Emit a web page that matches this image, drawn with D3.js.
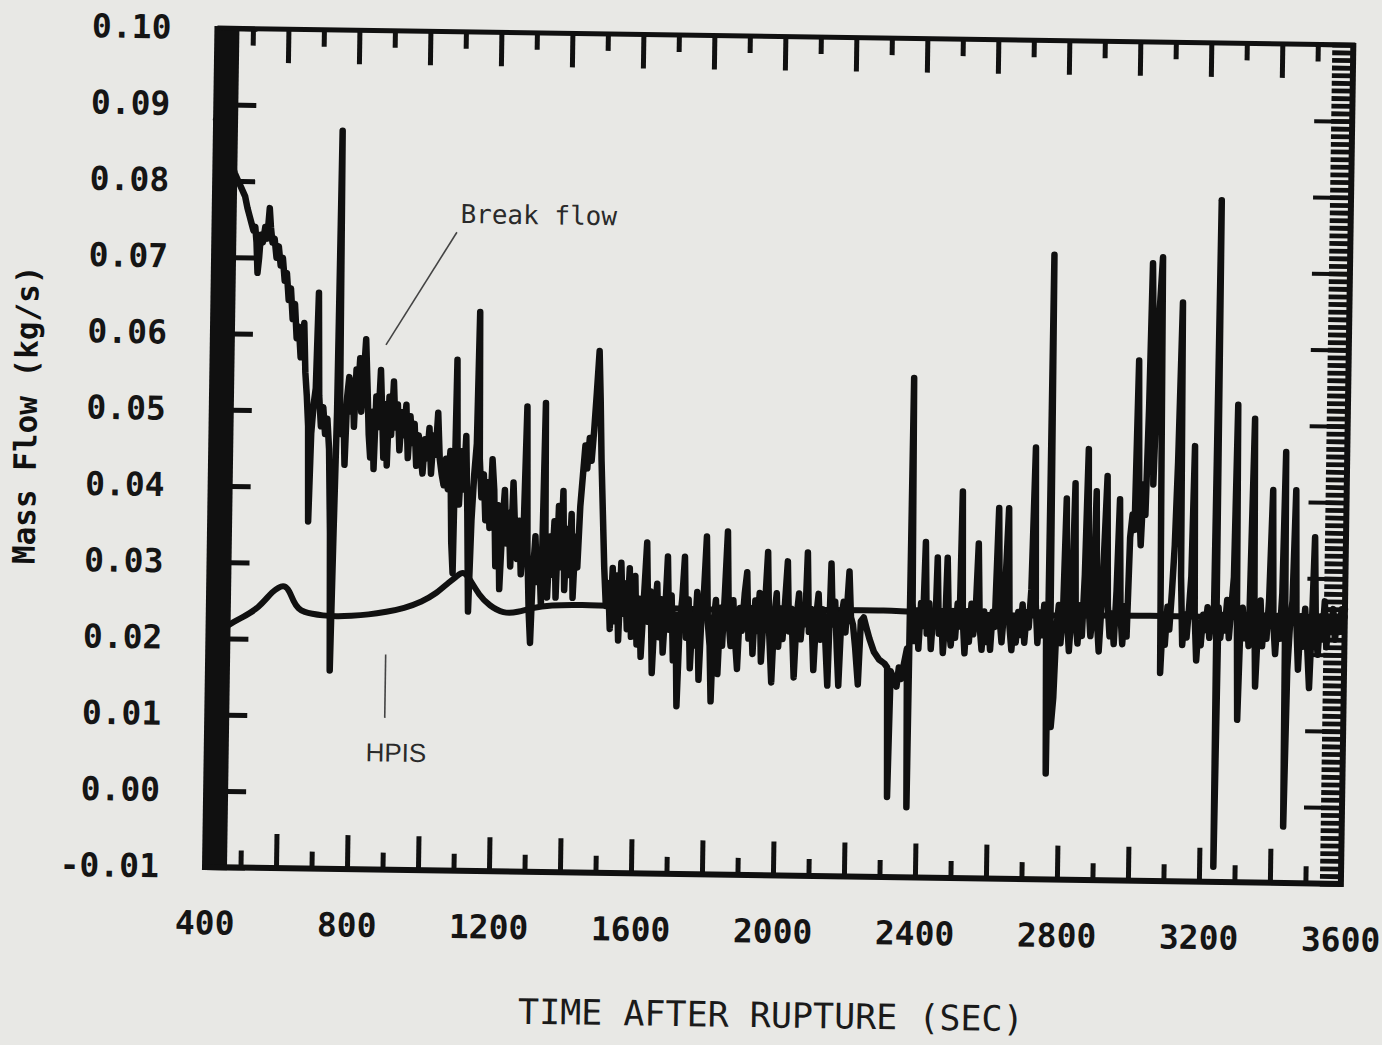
<!DOCTYPE html>
<html>
<head>
<meta charset="utf-8">
<script src="https://cdn.jsdelivr.net/npm/d3@7"></script>
<style>
  html, body { margin: 0; padding: 0; background: #e8e8e5; }
  svg { display: block; }
</style>
</head>
<body>
<svg id="chart" width="1382" height="1045"></svg>
<script>
'use strict'

// Break flow, [time after rupture (s), mass flow (kg/s)]
const breakFlow = [
  [400, 0.0880], [420, 0.0850], [440, 0.0830], [455, 0.0810], [465, 0.0800], [475, 0.0790], [485, 0.0780],
  [492, 0.0765], [498, 0.0755], [504, 0.0745], [510, 0.0735], [515, 0.0740], [519, 0.0720], [523, 0.0680],
  [527, 0.0700], [531, 0.0730], [537, 0.0720], [543, 0.0740], [549, 0.0725], [555, 0.0765], [559, 0.0740],
  [564, 0.0720], [570, 0.0725], [576, 0.0700], [582, 0.0715], [588, 0.0690], [594, 0.0700], [600, 0.0670],
  [606, 0.0680], [612, 0.0645], [618, 0.0660], [624, 0.0620], [630, 0.0640], [636, 0.0595], [642, 0.0610],
  [648, 0.0570], [653, 0.0590], [657, 0.0615], [662, 0.0550], [667, 0.0520], [672, 0.0480], [676, 0.0355],
  [681, 0.0470], [687, 0.0510], [692, 0.0530], [697, 0.0655], [702, 0.0520], [708, 0.0480], [714, 0.0505],
  [720, 0.0470], [726, 0.0490], [732, 0.0450], [738, 0.0340], [743, 0.0160], [748, 0.0340], [753, 0.0500],
  [757, 0.0868], [761, 0.0520], [766, 0.0470], [771, 0.0505], [776, 0.0430], [781, 0.0520], [786, 0.0545],
  [791, 0.0500], [796, 0.0540], [801, 0.0480], [806, 0.0555], [811, 0.0520], [816, 0.0570], [821, 0.0500],
  [826, 0.0540], [832, 0.0595], [838, 0.0530], [843, 0.0470], [848, 0.0440], [853, 0.0500], [858, 0.0425],
  [863, 0.0520], [869, 0.0480], [875, 0.0555], [880, 0.0500], [885, 0.0440], [890, 0.0510], [895, 0.0430],
  [900, 0.0520], [906, 0.0470], [912, 0.0540], [918, 0.0480], [924, 0.0510], [930, 0.0450], [936, 0.0500],
  [942, 0.0470], [948, 0.0510], [954, 0.0440], [960, 0.0495], [966, 0.0460], [972, 0.0485], [978, 0.0430],
  [984, 0.0470], [990, 0.0445], [996, 0.0420], [1002, 0.0465], [1008, 0.0440], [1014, 0.0480], [1020, 0.0420],
  [1026, 0.0470], [1032, 0.0445], [1038, 0.0500], [1044, 0.0440], [1050, 0.0420], [1056, 0.0405], [1062, 0.0440],
  [1068, 0.0400], [1074, 0.0450], [1080, 0.0330], [1085, 0.0290], [1090, 0.0570], [1095, 0.0420], [1100, 0.0380],
  [1106, 0.0450], [1112, 0.0400], [1118, 0.0470], [1124, 0.0370], [1130, 0.0240], [1136, 0.0360], [1142, 0.0420],
  [1148, 0.0460], [1152, 0.0633], [1157, 0.0440], [1163, 0.0390], [1169, 0.0420], [1175, 0.0360], [1181, 0.0410],
  [1187, 0.0350], [1193, 0.0440], [1199, 0.0400], [1205, 0.0300], [1211, 0.0380], [1217, 0.0270], [1223, 0.0350],
  [1229, 0.0400], [1235, 0.0330], [1241, 0.0370], [1247, 0.0300], [1253, 0.0410], [1259, 0.0350], [1265, 0.0310],
  [1271, 0.0360], [1277, 0.0290], [1283, 0.0340], [1289, 0.0510], [1295, 0.0320], [1301, 0.0240], [1306, 0.0200],
  [1311, 0.0290], [1317, 0.0340], [1323, 0.0280], [1329, 0.0310], [1335, 0.0250], [1341, 0.0515], [1346, 0.0300],
  [1352, 0.0260], [1358, 0.0340], [1364, 0.0290], [1370, 0.0360], [1376, 0.0260], [1382, 0.0380], [1388, 0.0300],
  [1394, 0.0400], [1400, 0.0270], [1406, 0.0350], [1412, 0.0290], [1418, 0.0370], [1424, 0.0260], [1430, 0.0340],
  [1436, 0.0300], [1442, 0.0380], [1448, 0.0420], [1454, 0.0460], [1460, 0.0430], [1466, 0.0470], [1472, 0.0440],
  [1478, 0.0480], [1484, 0.0530], [1490, 0.0584], [1495, 0.0520], [1500, 0.0440], [1506, 0.0370], [1512, 0.0300],
  [1518, 0.0250], [1524, 0.0280], [1530, 0.0220], [1536, 0.0300], [1542, 0.0230], [1548, 0.0290], [1554, 0.0205],
  [1560, 0.0307], [1566, 0.0240], [1572, 0.0280], [1578, 0.0220], [1584, 0.0300], [1590, 0.0210], [1596, 0.0260],
  [1600, 0.0290], [1606, 0.0200], [1612, 0.0260], [1618, 0.0184], [1624, 0.0250], [1632, 0.0334], [1638, 0.0230],
  [1644, 0.0270], [1650, 0.0163], [1656, 0.0240], [1662, 0.0280], [1668, 0.0210], [1674, 0.0260], [1680, 0.0190],
  [1686, 0.0250], [1691, 0.0316], [1697, 0.0220], [1703, 0.0265], [1709, 0.0180], [1715, 0.0240], [1721, 0.0120],
  [1727, 0.0230], [1733, 0.0260], [1739, 0.0316], [1745, 0.0210], [1751, 0.0260], [1757, 0.0170], [1763, 0.0240],
  [1769, 0.0200], [1775, 0.0270], [1782, 0.0155], [1788, 0.0240], [1794, 0.0270], [1800, 0.0343], [1806, 0.0230],
  [1812, 0.0200], [1817, 0.0127], [1822, 0.0230], [1828, 0.0260], [1835, 0.0163], [1841, 0.0250], [1847, 0.0200],
  [1853, 0.0270], [1859, 0.0350], [1865, 0.0230], [1871, 0.0200], [1877, 0.0260], [1883, 0.0210], [1890, 0.0170],
  [1896, 0.0250], [1902, 0.0220], [1909, 0.0270], [1915, 0.0297], [1921, 0.0210], [1927, 0.0250], [1933, 0.0190],
  [1939, 0.0260], [1945, 0.0220], [1951, 0.0270], [1957, 0.0180], [1963, 0.0240], [1968, 0.0270], [1973, 0.0324],
  [1979, 0.0220], [1987, 0.0153], [1993, 0.0240], [1999, 0.0270], [2005, 0.0200], [2011, 0.0250], [2017, 0.0210],
  [2023, 0.0260], [2029, 0.0312], [2035, 0.0220], [2041, 0.0250], [2050, 0.0160], [2056, 0.0240], [2062, 0.0270],
  [2068, 0.0210], [2074, 0.0250], [2080, 0.0230], [2085, 0.0324], [2091, 0.0220], [2097, 0.0250], [2105, 0.0170],
  [2111, 0.0240], [2117, 0.0270], [2123, 0.0210], [2129, 0.0250], [2135, 0.0230], [2145, 0.0150], [2152, 0.0310],
  [2158, 0.0230], [2164, 0.0260], [2170, 0.0200], [2176, 0.0150], [2182, 0.0240], [2188, 0.0260], [2194, 0.0220],
  [2203, 0.0300], [2209, 0.0240], [2215, 0.0230], [2222, 0.0200], [2231, 0.0152], [2237, 0.0235], [2245, 0.0240],
  [2252, 0.0228], [2262, 0.0212], [2275, 0.0195], [2290, 0.0185], [2305, 0.0180], [2313, 0.0175], [2318, 0.0005],
  [2323, 0.0170], [2332, 0.0160], [2340, 0.0150], [2346, 0.0175], [2352, 0.0160], [2360, 0.0180], [2368, 0.0200],
  [2373, -0.0008], [2377, 0.0555], [2382, 0.0260], [2388, 0.0210], [2394, 0.0250], [2400, 0.0200], [2406, 0.0260],
  [2412, 0.0230], [2417, 0.0340], [2423, 0.0220], [2429, 0.0260], [2435, 0.0200], [2441, 0.0250], [2447, 0.0230],
  [2451, 0.0320], [2457, 0.0220], [2463, 0.0250], [2469, 0.0195], [2475, 0.0240], [2479, 0.0320], [2485, 0.0230],
  [2491, 0.0205], [2497, 0.0250], [2503, 0.0215], [2509, 0.0260], [2515, 0.0230], [2519, 0.0407], [2524, 0.0240],
  [2530, 0.0195], [2536, 0.0250], [2542, 0.0210], [2548, 0.0260], [2554, 0.0220], [2560, 0.0250], [2566, 0.0339],
  [2572, 0.0230], [2578, 0.0200], [2584, 0.0250], [2590, 0.0210], [2596, 0.0240], [2602, 0.0200], [2608, 0.0250],
  [2614, 0.0230], [2622, 0.0386], [2628, 0.0240], [2634, 0.0210], [2640, 0.0250], [2650, 0.0386], [2656, 0.0230],
  [2662, 0.0200], [2668, 0.0240], [2674, 0.0210], [2680, 0.0250], [2686, 0.0220], [2692, 0.0260], [2698, 0.0210],
  [2704, 0.0250], [2710, 0.0230], [2716, 0.0280], [2723, 0.0466], [2729, 0.0260], [2735, 0.0210], [2741, 0.0250],
  [2747, 0.0220], [2753, 0.0260], [2759, 0.0230], [2764, 0.0039], [2767, 0.0719], [2771, 0.0250], [2776, 0.0100],
  [2782, 0.0138], [2788, 0.0230], [2794, 0.0260], [2800, 0.0210], [2806, 0.0250], [2812, 0.0400], [2818, 0.0240],
  [2824, 0.0200], [2830, 0.0250], [2836, 0.0420], [2842, 0.0240], [2848, 0.0210], [2854, 0.0260], [2860, 0.0220],
  [2866, 0.0300], [2872, 0.0465], [2878, 0.0260], [2884, 0.0220], [2890, 0.0250], [2896, 0.0410], [2902, 0.0240],
  [2908, 0.0200], [2914, 0.0260], [2920, 0.0340], [2926, 0.0430], [2932, 0.0260], [2938, 0.0220], [2944, 0.0250],
  [2950, 0.0210], [2956, 0.0280], [2962, 0.0400], [2968, 0.0250], [2974, 0.0210], [2980, 0.0260], [2986, 0.0220],
  [2992, 0.0350], [2998, 0.0380], [3004, 0.0360], [3010, 0.0582], [3016, 0.0400], [3022, 0.0340], [3028, 0.0420],
  [3034, 0.0380], [3040, 0.0520], [3045, 0.0710], [3050, 0.0600], [3055, 0.0420], [3060, 0.0520], [3066, 0.0650],
  [3073, 0.0718], [3078, 0.0400], [3082, 0.0173], [3088, 0.0250], [3094, 0.0210], [3100, 0.0260], [3106, 0.0230],
  [3112, 0.0280], [3118, 0.0340], [3124, 0.0450], [3131, 0.0659], [3137, 0.0300], [3143, 0.0210], [3149, 0.0250],
  [3155, 0.0220], [3161, 0.0260], [3166, 0.0300], [3171, 0.0471], [3177, 0.0250], [3183, 0.0190], [3189, 0.0240],
  [3195, 0.0210], [3201, 0.0250], [3207, 0.0230], [3213, 0.0260], [3219, 0.0220], [3225, 0.0250], [3231, 0.0230],
  [3236, 0.0794], [3240, -0.0080], [3244, 0.0260], [3250, 0.0220], [3256, 0.0250], [3262, 0.0230], [3268, 0.0270],
  [3274, 0.0220], [3280, 0.0260], [3286, 0.0300], [3291, 0.0526], [3296, 0.0250], [3301, 0.0113], [3306, 0.0230],
  [3312, 0.0260], [3318, 0.0220], [3324, 0.0250], [3330, 0.0210], [3339, 0.0508], [3345, 0.0260], [3350, 0.0157],
  [3356, 0.0240], [3362, 0.0270], [3368, 0.0210], [3374, 0.0250], [3380, 0.0220], [3386, 0.0270], [3393, 0.0415],
  [3399, 0.0240], [3405, 0.0200], [3411, 0.0250], [3417, 0.0220], [3423, 0.0280], [3428, 0.0465], [3432, 0.0250],
  [3435, -0.0026], [3440, 0.0180], [3446, 0.0240], [3452, 0.0270], [3458, 0.0415], [3464, 0.0240], [3470, 0.0180],
  [3476, 0.0250], [3482, 0.0210], [3488, 0.0260], [3494, 0.0220], [3502, 0.0156], [3508, 0.0250], [3513, 0.0354],
  [3519, 0.0230], [3525, 0.0200], [3531, 0.0250], [3537, 0.0220], [3543, 0.0270], [3549, 0.0210], [3555, 0.0250],
  [3561, 0.0230], [3567, 0.0260], [3573, 0.0220], [3579, 0.0250], [3585, 0.0230], [3591, 0.0260], [3600, 0.0260]
]

// HPIS injection flow, same units
const hpisFlow = [
  [430, 0.0210], [445, 0.0214], [470, 0.0222], [495, 0.0228], [517, 0.0234], [540, 0.0242], [560, 0.0252],
  [578, 0.0262], [595, 0.0268], [612, 0.0271], [626, 0.0264], [638, 0.0250], [652, 0.0240], [670, 0.0236],
  [690, 0.0234], [720, 0.0232], [760, 0.0231], [800, 0.0232], [850, 0.0234], [900, 0.0238], [950, 0.0243],
  [1000, 0.0252], [1040, 0.0263], [1075, 0.0278], [1100, 0.0287], [1115, 0.0293], [1135, 0.0282], [1160, 0.0262],
  [1190, 0.0248], [1230, 0.0238], [1270, 0.0240], [1310, 0.0246], [1360, 0.0250], [1450, 0.0251], [1550, 0.0250],
  [1700, 0.0248], [1850, 0.0247], [2000, 0.0248], [2150, 0.0249], [2300, 0.0250], [2450, 0.0247], [2600, 0.0245],
  [2750, 0.0246], [2900, 0.0247], [3050, 0.0248], [3200, 0.0247], [3350, 0.0248], [3500, 0.0249], [3600, 0.0250]
]

const xLabelValues = [400, 800, 1200, 1600, 2000, 2400, 2800, 3200, 3600]
const xLongTicks = [600, 800, 1000, 1200, 1400, 1600, 1800, 2000, 2200, 2400, 2600, 2800, 3000, 3200, 3400]
const xShortTicks = [500, 700, 900, 1100, 1300, 1500, 1700, 1900, 2100, 2300, 2500, 2700, 2900, 3100, 3300, 3500]
const yLabelValues = [0.10, 0.09, 0.08, 0.07, 0.06, 0.05, 0.04, 0.03, 0.02, 0.01, 0.00, -0.01]

const width = 1382
const height = 1045
const plot = { left: 205, right: 1341, top: 28, bottom: 867 }
const tilt = 0.85 // the scanned page sits slightly skewed
const ink = '#101010'
const monoFont = "'DejaVu Sans Mono', 'Liberation Mono', monospace"

const x = d3.scaleLinear().domain([400, 3600]).range([plot.left, plot.right])
const y = d3.scaleLinear().domain([-0.01, 0.10]).range([plot.bottom, plot.top])

const svg = d3.select('#chart')
svg.append('rect').attr('width', width).attr('height', height).attr('fill', '#e8e8e5')

const page = svg.append('g')
  .attr('transform', `rotate(${tilt}, ${plot.left}, ${plot.bottom})`)

function styleTicks (g, strokeWidth) {
  g.select('.domain').remove()
  g.selectAll('.tick line').attr('stroke', ink).attr('stroke-width', strokeWidth)
}

// inward tick marks on bottom and top, long every 200 s, short in between
page.append('g')
  .attr('transform', `translate(0,${plot.bottom})`)
  .call(d3.axisBottom(x).tickValues(xLongTicks).tickSizeInner(-34).tickSizeOuter(0).tickFormat(''))
  .call(g => styleTicks(g, 5))
page.append('g')
  .attr('transform', `translate(0,${plot.bottom})`)
  .call(d3.axisBottom(x).tickValues(xShortTicks).tickSizeInner(-17).tickSizeOuter(0).tickFormat(''))
  .call(g => styleTicks(g, 5))
page.append('g')
  .attr('transform', `translate(0,${plot.top})`)
  .call(d3.axisTop(x).tickValues(xLongTicks).tickSizeInner(-34).tickSizeOuter(0).tickFormat(''))
  .call(g => styleTicks(g, 5))
page.append('g')
  .attr('transform', `translate(0,${plot.top})`)
  .call(d3.axisTop(x).tickValues(xShortTicks).tickSizeInner(-17).tickSizeOuter(0).tickFormat(''))
  .call(g => styleTicks(g, 5))

// left ticks poke out of the heavy left bar
page.append('g')
  .attr('transform', `translate(${plot.left},0)`)
  .call(d3.axisLeft(y).tickValues(yLabelValues).tickSizeInner(-40).tickSizeOuter(0).tickFormat(''))
  .call(g => styleTicks(g, 5))

// right side: dense ladder of minor ticks plus the 0.01 marks
page.append('g')
  .attr('transform', `translate(${plot.right},0)`)
  .call(d3.axisRight(y).tickValues(d3.range(-0.01, 0.1001, 0.001)).tickSizeInner(-21).tickSizeOuter(0).tickFormat(''))
  .call(g => styleTicks(g, 4.8))
page.append('g')
  .attr('transform', `translate(${plot.right},0)`)
  .call(d3.axisRight(y).tickValues(yLabelValues).tickSizeInner(-38).tickSizeOuter(0).tickFormat(''))
  .call(g => styleTicks(g, 4))

// data
const line = d3.line()
  .x(d => x(d[0]))
  .y(d => y(d[1]))

page.append('path')
  .datum(hpisFlow)
  .attr('d', line.curve(d3.curveBasis))
  .attr('fill', 'none')
  .attr('stroke', ink)
  .attr('stroke-width', 6)
  .attr('stroke-linejoin', 'round')
  .attr('stroke-linecap', 'round')

page.append('path')
  .datum(breakFlow)
  .attr('d', line.curve(d3.curveLinear))
  .attr('fill', 'none')
  .attr('stroke', ink)
  .attr('stroke-width', 6.5)
  .attr('stroke-linejoin', 'round')
  .attr('stroke-linecap', 'round')

// frame, drawn over the traces so the heavy left bar hides the first seconds
page.append('rect')
  .attr('x', x(400) - 3)
  .attr('y', y(0.10) - 2)
  .attr('width', 25)
  .attr('height', y(-0.01) - y(0.10) + 5)
  .attr('fill', ink)
page.append('line')
  .attr('x1', x(400)).attr('x2', x(3600) + 2)
  .attr('y1', y(0.10)).attr('y2', y(0.10))
  .attr('stroke', ink).attr('stroke-width', 5)
page.append('line')
  .attr('x1', x(400)).attr('x2', x(3600) + 2)
  .attr('y1', y(-0.01)).attr('y2', y(-0.01))
  .attr('stroke', ink).attr('stroke-width', 6)
page.append('line')
  .attr('x1', x(3600)).attr('x2', x(3600))
  .attr('y1', y(0.10) - 2).attr('y2', y(-0.01) + 3)
  .attr('stroke', ink).attr('stroke-width', 6)

// tick labels
page.append('g')
  .attr('transform', `translate(${plot.left},0)`)
  .call(d3.axisLeft(y).tickValues(yLabelValues).tickSize(0).tickPadding(46).tickFormat(v => v.toFixed(2)))
  .call(g => g.select('.domain').remove())
  .call(g => g.selectAll('text')
    .attr('font-family', monoFont)
    .attr('font-weight', 'bold')
    .attr('font-size', 33)
    .attr('fill', '#151515'))

page.append('g')
  .attr('transform', `translate(0,${plot.bottom})`)
  .call(d3.axisBottom(x).tickValues(xLabelValues).tickSize(0).tickPadding(44).tickFormat(d3.format('d')))
  .call(g => g.select('.domain').remove())
  .call(g => g.selectAll('text')
    .attr('font-family', monoFont)
    .attr('font-weight', 'bold')
    .attr('font-size', 33)
    .attr('fill', '#151515'))

// axis titles
page.append('text')
  .attr('x', (x(400) + x(3600)) / 2)
  .attr('y', 1019)
  .attr('text-anchor', 'middle')
  .attr('font-family', monoFont)
  .attr('font-size', 35)
  .attr('fill', '#1a1a1a')
  .text('TIME AFTER RUPTURE (SEC)')

page.append('text')
  .attr('transform', `translate(30,${(y(0.10) + y(-0.01)) / 2 - 30}) rotate(-90)`)
  .attr('text-anchor', 'middle')
  .attr('font-family', monoFont)
  .attr('font-weight', 'bold')
  .attr('font-size', 31)
  .attr('fill', '#111')
  .text('Mass Flow (kg/s)')

// annotations
page.append('line')
  .attr('x1', x(1083)).attr('y1', y(0.0737))
  .attr('x2', x(888)).attr('y2', y(0.0588))
  .attr('stroke', '#444').attr('stroke-width', 1.6)
page.append('text')
  .attr('x', x(1313)).attr('y', y(0.0761) + 9)
  .attr('text-anchor', 'middle')
  .attr('font-family', monoFont)
  .attr('font-size', 26)
  .attr('fill', '#2a2a2a')
  .text('Break flow')

page.append('line')
  .attr('x1', x(900)).attr('y1', y(0.0182))
  .attr('x2', x(900)).attr('y2', y(0.0099))
  .attr('stroke', '#444').attr('stroke-width', 1.6)
page.append('text')
  .attr('x', x(933)).attr('y', y(0.0055) + 10)
  .attr('text-anchor', 'middle')
  .attr('font-family', "'Liberation Sans', Arial, sans-serif")
  .attr('font-size', 26)
  .attr('fill', '#2a2a2a')
  .text('HPIS')
</script>
</body>
</html>
